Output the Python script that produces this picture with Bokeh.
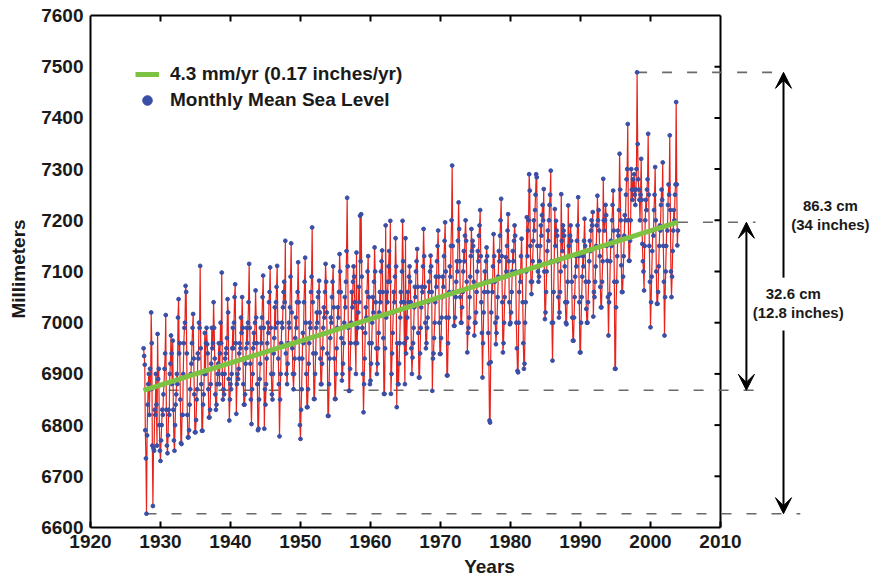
import numpy as np
from bokeh.plotting import figure
from bokeh.models import (Range1d, FixedTicker, Legend, LegendItem,
                          Label, Arrow, VeeHead)
from bokeh.embed import file_html
from bokeh.resources import INLINE

# ---------------- data (monthly mean sea level, mm) ----------------
start_year = 1927
start_month_index = 7          # August 1927 (0 = January)

sl_1920s = [6950, 6935, 6918, 6790, 6735,
            6627, 6780, 6840, 6880, 6900, 6820, 6910, 6870, 7020, 6960, 6760, 6642,
            6755, 6750, 6830, 6820, 6900, 6840, 6760, 6978, 6890, 6910, 6800, 6750]
sl_1930s = [6730, 6770, 6800, 6830, 6820, 6860, 6880, 6910, 6940, 7015, 6830, 6760,
            6745, 6780, 6830, 6820, 6900, 6920, 6975, 6940, 6880, 6965, 6830, 6770,
            6750, 6800, 6840, 6860, 6900, 6880, 7010, 7046, 6940, 6960, 6850, 6765,
            6763, 6820, 6820, 6900, 6960, 6990, 7000, 7072, 7060, 6940, 6820, 6776,
            6776, 6790, 6840, 6870, 6900, 6920, 6960, 6990, 7017, 6930, 6860, 6786,
            6786, 6810, 6850, 6870, 6940, 6930, 7000, 6990, 7111, 6950, 6880, 6789,
            6789, 6840, 6860, 6900, 6980, 6900, 6960, 6990, 6958, 6940, 6870, 6815,
            6815, 6830, 6880, 6920, 6990, 6950, 6960, 7040, 6990, 6930, 6860, 6830,
            6840, 6880, 6900, 6920, 6960, 6880, 6940, 7000, 6960, 7098, 6900, 6850,
            6870, 6860, 6900, 6930, 6940, 6950, 6970, 7046, 7020, 6890, 6809, 6850]
sl_1940s = [6880, 6870, 6900, 6950, 6990, 6950, 7000, 7050, 7075, 6960, 6822, 6880,
            6900, 6890, 6910, 6940, 6960, 6950, 7010, 6980, 7050, 6990, 6880, 6840,
            6840, 6860, 6920, 6950, 6990, 6960, 7000, 7040, 7115, 6990, 6920, 6850,
            6802, 6870, 6900, 6950, 6980, 6960, 7000, 7063, 7010, 6960, 6880, 6790,
            6793, 6850, 6890, 6920, 6990, 6960, 7010, 7050, 7092, 6990, 6793, 6870,
            6840, 6880, 6930, 6960, 7000, 6980, 7040, 7060, 7108, 6990, 6900, 6860,
            6850, 6900, 6940, 6970, 7030, 6990, 7040, 7070, 7111, 7000, 6930, 6880,
            6778, 6850, 6900, 6960, 7000, 6990, 7030, 7060, 7080, 7040, 7160, 6940,
            6900, 6880, 6920, 6960, 7000, 6990, 7030, 7090, 7155, 7020, 6950, 6900,
            6870, 6900, 6930, 6970, 7010, 6990, 7040, 7060, 7118, 7040, 6930, 6800]
sl_1950s = [6773, 6830, 6870, 6930, 6980, 6960, 7040, 7080, 7127, 7000, 6900, 6835,
            6835, 6870, 6920, 6960, 7000, 6990, 7060, 7090, 7186, 7040, 6940, 6851,
            6851, 6900, 6940, 6990, 7020, 7000, 7050, 7060, 7082, 7020, 6930, 6880,
            6880, 6920, 6950, 6990, 7030, 7010, 7060, 7115, 7080, 7020, 6940, 6818,
            6818, 6880, 6930, 6970, 7010, 7000, 7050, 7080, 7110, 7030, 6930, 6851,
            6851, 6900, 6950, 6990, 7030, 7010, 7060, 7134, 7100, 7060, 6970, 6887,
            6900, 6920, 6960, 7000, 7050, 7030, 7080, 7140, 7244, 7110, 6990, 6867,
            6867, 6910, 6960, 7000, 7060, 7030, 7080, 7110, 7090, 7040, 6960, 6900,
            7137, 6960, 6990, 7020, 7070, 7040, 7209, 7120, 7212, 7090, 6990, 6900,
            6825, 6880, 6930, 6980, 7030, 7010, 7060, 7100, 7130, 7050, 6960, 6880]
sl_1960s = [6887, 6920, 6960, 7000, 7050, 7020, 7080, 7147, 7100, 7040, 6950, 6900,
            6920, 6950, 6980, 7020, 7060, 7040, 7100, 7120, 7141, 7060, 6970, 6861,
            6861, 6950, 7190, 7010, 7060, 7040, 7080, 7110, 7140, 7080, 7199, 6861,
            6900, 6940, 6980, 7020, 7060, 7040, 7090, 7165, 7110, 6835, 6960, 6880,
            6880, 6920, 6960, 7010, 7060, 7040, 7100, 7199, 7120, 7040, 6960, 6880,
            7165, 6940, 6970, 7010, 7060, 7040, 7090, 7110, 7080, 7040, 6950, 6900,
            6932, 6960, 6990, 7030, 7070, 7050, 7100, 7120, 7144, 7070, 6980, 6893,
            6893, 6940, 6990, 7030, 7070, 7060, 7110, 7183, 7130, 7070, 7000, 6950,
            6960, 6990, 7010, 7040, 7080, 7060, 7100, 7131, 7110, 7060, 6867, 6930,
            6940, 6970, 7000, 7040, 7090, 7070, 7120, 7150, 7180, 7090, 7000, 6939]
sl_1970s = [6939, 6970, 7010, 7050, 7090, 7070, 7130, 7160, 7196, 7100, 7010, 6897,
            6897, 6960, 7010, 7060, 7110, 7090, 7150, 7200, 7307, 7150, 7060, 6994,
            6994, 7010, 7050, 7080, 7120, 7100, 7160, 7235, 7183, 7120, 7050, 7000,
            7000, 7030, 7060, 7100, 7140, 7120, 7170, 7200, 7160, 7080, 6942, 6980,
            6990, 7010, 7050, 7090, 7130, 7183, 7140, 7160, 7150, 7080, 6975, 7000,
            7000, 7020, 7060, 7100, 7140, 7120, 7170, 7190, 7220, 7130, 7040, 6980,
            6893, 6960, 7020, 7060, 7100, 7080, 7120, 7147, 7130, 7060, 6980, 6920,
            6809, 6805, 6923, 7020, 7080, 7060, 7110, 7173, 7130, 7080, 7000, 6958,
            6980, 7010, 7050, 7090, 7140, 7120, 7170, 7200, 7242, 7130, 7040, 6942,
            6960, 7000, 7050, 7090, 7128, 7100, 7150, 7180, 7212, 7120, 7040, 6997]
sl_1980s = [7000, 7020, 7060, 7100, 7140, 7120, 7160, 7190, 7170, 7100, 7000, 6950,
            6906, 6903, 7000, 7060, 7100, 7080, 7130, 7164, 7100, 7040, 6960, 6910,
            6920, 7000, 7040, 7100, 7206, 7130, 7180, 7200, 7290, 7258, 7150, 7080,
            7056, 7080, 7120, 7160, 7200, 7180, 7220, 7250, 7290, 7284, 7150, 7100,
            7080, 7090, 7120, 7150, 7190, 7170, 7210, 7230, 7200, 7261, 7100, 7007,
            7020, 7060, 7100, 7140, 7180, 7160, 7200, 7230, 7250, 7297, 7120, 7000,
            6926, 7000, 7060, 7120, 7222, 7150, 7199, 7180, 7170, 7120, 7050, 7010,
            7020, 7060, 7100, 7251, 7160, 7140, 7190, 7180, 7170, 7110, 7040, 7000,
            6997, 7040, 7080, 7229, 7150, 7130, 7170, 7190, 7160, 7080, 7010, 6965,
            6965, 7010, 7050, 7090, 7130, 7110, 7160, 7190, 7245, 7130, 7040, 6942]
sl_1990s = [6942, 7000, 7050, 7090, 7130, 7110, 7160, 7203, 7150, 7080, 7027, 7000,
            7000, 7040, 7080, 7120, 7160, 7140, 7180, 7200, 7190, 7216, 7012, 7060,
            7050, 7080, 7110, 7150, 7190, 7248, 7200, 7220, 7180, 7130, 7070, 7030,
            7030, 7080, 7120, 7281, 7200, 7180, 7200, 7230, 7210, 7150, 7121, 7050,
            6975, 7040, 7056, 7120, 7160, 7150, 7200, 7230, 7258, 7180, 7080, 6910,
            6910, 7030, 7080, 7130, 7180, 7170, 7220, 7330, 7260, 7200, 7112, 7060,
            7060, 7090, 7130, 7170, 7210, 7200, 7250, 7280, 7300, 7388, 7200, 7121,
            7121, 7160, 7200, 7300, 7260, 7240, 7280, 7260, 7290, 7250, 7230, 7260,
            7300, 7489, 7349, 7280, 7260, 7240, 7200, 7250, 7320, 7240, 7154, 7120,
            7100, 7063, 7150, 7200, 7240, 7220, 7260, 7280, 7369, 7250, 7150, 7080]
sl_2000s = [6991, 7040, 7090, 7140, 7180, 7170, 7220, 7250, 7304, 7200, 7100, 7037,
            7037, 7060, 7110, 7150, 7190, 7180, 7230, 7260, 7240, 7313, 7150, 7080,
            6975, 7050, 7100, 7150, 7190, 7180, 7230, 7270, 7250, 7366, 7220, 7100,
            7050, 7090, 7140, 7180, 7220, 7200, 7250, 7270, 7431, 7270, 7151, 7180]

trend_rate = 4.3        # mm / yr
trend_start = 6868      # mm at first month

legend_trend = "4.3 mm/yr (0.17 inches/yr)"
legend_data = "Monthly Mean Sea Level"
x_ticks = [1920, 1930, 1940, 1950, 1960, 1970, 1980, 1990, 2000, 2010]
y_ticks = [6600, 6700, 6800, 6900, 7000, 7100, 7200, 7300, 7400, 7500, 7600]

# ---------------- assemble ----------------
level = np.array(sl_1920s + sl_1930s + sl_1940s + sl_1950s + sl_1960s +
                 sl_1970s + sl_1980s + sl_1990s + sl_2000s, dtype=float)
years = start_year + (start_month_index + np.arange(len(level))) / 12.0

x0, x1 = years[0], years[-1]
trend_x = [x0, x1]
trend_y = [trend_start, trend_start + trend_rate * (x1 - x0)]
trend_end = trend_y[1]

i_max = int(np.argmax(level)); i_min = int(np.argmin(level))
lev_max, lev_min = level[i_max], level[i_min]

FONT = "Liberation Sans"
X_LO, X_HI = x_ticks[0], x_ticks[-1]
Y_LO, Y_HI = y_ticks[0], y_ticks[-1]

p = figure(width=888, height=583, x_range=Range1d(X_LO, 2034.0),
           y_range=Range1d(Y_LO, 7609.8), output_backend="svg",
           toolbar_location=None, min_border_left=90, min_border_right=0,
           min_border_top=10, min_border_bottom=56)
p.outline_line_color = None
p.grid.visible = False
p.background_fill_color = "white"

# bottom axis
xa = p.xaxis[0]
xa.ticker = FixedTicker(ticks=x_ticks)
xa.bounds = (X_LO, X_HI)
xa.axis_line_width = 2
xa.major_tick_in = 6
xa.major_tick_out = 0
xa.major_tick_line_width = 2
xa.minor_tick_line_color = None
xa.major_label_standoff = 7
xa.major_label_text_font = FONT
xa.major_label_text_font_style = "bold"
xa.major_label_text_font_size = "19px"
xa.major_label_text_color = "#1a1a1a"
xa.axis_label = "Years"
xa.axis_label_text_font = FONT
xa.axis_label_text_font_style = "bold"
xa.axis_label_text_font_size = "19px"
xa.axis_label_standoff = 5
xa.axis_label_text_color = "#1a1a1a"

# left axis
ya = p.yaxis[0]
ya.ticker = FixedTicker(ticks=y_ticks)
ya.bounds = (Y_LO, Y_HI)
ya.axis_line_width = 2
ya.major_tick_in = 0
ya.major_tick_out = 0
ya.minor_tick_line_color = None
ya.major_label_standoff = 7
ya.major_label_text_font = FONT
ya.major_label_text_font_style = "bold"
ya.major_label_text_font_size = "19px"
ya.major_label_text_color = "#1a1a1a"
ya.axis_label = "Millimeters"
ya.axis_label_text_font = FONT
ya.axis_label_text_font_style = "bold"
ya.axis_label_text_font_size = "19px"
ya.axis_label_standoff = 9
ya.axis_label_text_color = "#1a1a1a"

# top and right spines with inward ticks
p.segment(x0=[X_LO], y0=[Y_HI], x1=[X_HI], y1=[Y_HI], line_width=2, line_color="black")
p.segment(x0=[X_HI], y0=[Y_LO], x1=[X_HI], y1=[Y_HI], line_width=2, line_color="black")
p.ray(x=x_ticks[1:-1], y=[Y_HI] * (len(x_ticks) - 2), length=6, length_units="screen",
      angle=-np.pi / 2, line_width=2, line_color="black")
p.ray(x=[X_HI] * (len(y_ticks) - 2), y=y_ticks[1:-1], length=6, length_units="screen",
      angle=np.pi, line_width=2, line_color="black")

# dashed reference lines
dash = dict(line_dash="10 15", line_color="#6a6a6a", line_width=1.6)
p.segment(x0=[years[i_max]], y0=[lev_max], x1=[2018.6], y1=[lev_max], **dash)
p.segment(x0=[x1], y0=[trend_end], x1=[2015.0], y1=[trend_end], **dash)
p.segment(x0=[x0], y0=[trend_start], x1=[2015.0], y1=[trend_start], **dash)
p.segment(x0=[years[i_min]], y0=[lev_min], x1=[2021.4], y1=[lev_min], **dash)

# data
p.line(years, level, line_color="#e5231b", line_width=1.2)
dots = p.scatter(years, level, size=3.8, fill_color="#3b4ea6", line_color="#3b4ea6")
trend = p.line(trend_x, trend_y, line_color="#7dc242", line_width=5)

# arrows
head = lambda: VeeHead(size=16, fill_color="black", line_color="black")
p.add_layout(Arrow(end=head(), x_start=2019.0, y_start=7088, x_end=2019.0, y_end=lev_max,
                   line_width=2, line_color="black"))
p.add_layout(Arrow(end=head(), x_start=2019.0, y_start=6985, x_end=2019.0, y_end=lev_min,
                   line_width=2, line_color="black"))
p.add_layout(Arrow(start=head(), end=head(), x_start=2013.7, y_start=trend_start,
                   x_end=2013.7, y_end=trend_end, line_width=2, line_color="black"))

lab = dict(text_align="center", text_baseline="middle", text_font=FONT,
           text_font_style="bold", text_font_size="15px", text_color="#1a1a1a")
p.add_layout(Label(x=2025.7, y=7229, text="86.3 cm", **lab))
p.add_layout(Label(x=2025.7, y=7192, text="(34 inches)", **lab))
p.add_layout(Label(x=2020.4, y=7057, text="32.6 cm", **lab))
p.add_layout(Label(x=2021.1, y=7020, text="(12.8 inches)", **lab))

legend = Legend(items=[LegendItem(label=legend_trend, renderers=[trend]),
                       LegendItem(label=legend_data, renderers=[dots])],
                location=(45, 414), border_line_color=None, background_fill_alpha=0,
                label_text_font=FONT, label_text_font_style="bold",
                label_text_font_size="19px", label_text_color="#1a1a1a",
                glyph_width=24, glyph_height=26, label_height=26, label_standoff=11,
                spacing=0, padding=0, margin=0)
p.add_layout(legend)

open("out.html", "w").write(file_html(p, INLINE))
